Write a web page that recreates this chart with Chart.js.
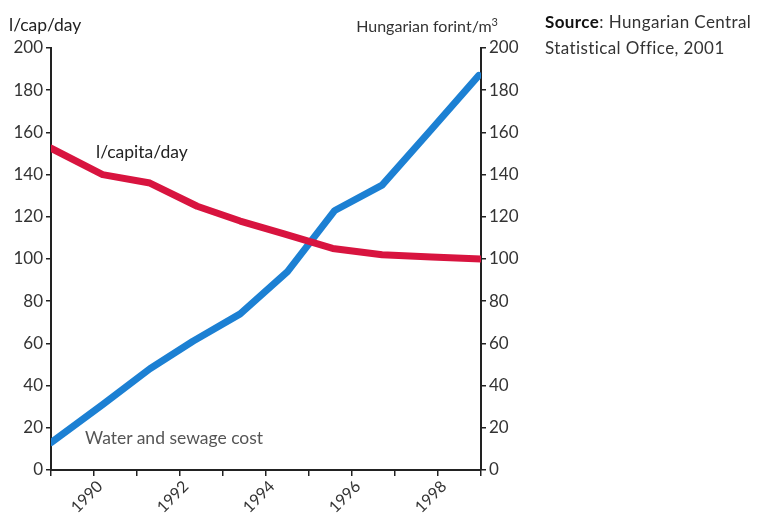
<!DOCTYPE html>
<html>
<head>
<meta charset="utf-8">
<script src="https://cdn.jsdelivr.net/npm/chart.js@4"></script>
<style>
  html, body { margin:0; padding:0; background:#fff; }
  #wrap { position:relative; width:764px; height:514px; font-family:Lato, "Open Sans", sans-serif; color:#222; }
  #chart { position:absolute; left:0; top:0; }
  .txt { position:absolute; white-space:nowrap; }
</style>
</head>
<body>
<div id="wrap">
  <canvas id="chart" width="764" height="514"></canvas>
  <div class="txt" style="left:9px;top:14px;font-size:17.5px;">l/cap/day</div>
  <div class="txt" style="right:266px;top:15px;font-size:16px;color:#333;">Hungarian forint/m<sup style="font-size:11px;">3</sup></div>
  <div class="txt" style="left:545px;top:9px;font-size:17px;line-height:26px;letter-spacing:0.4px;color:#333;"><b style="color:#111;">Source</b>: Hungarian Central<br>Statistical Office, 2001</div>
  <div class="txt" style="left:96px;top:141px;font-size:17.5px;">l/capita/day</div>
  <div class="txt" style="left:85px;top:427px;font-size:17.5px;color:#555;">Water and sewage cost</div>
</div>
<script>
// vertices of the two lines (x in years)
const years = [1989, 1990.2, 1991.3, 1992.4, 1993.4, 1994.4, 1995.55, 1996.7, 1997.85, 1999];
const consumption = [152.5, 140, 136, 125, 118, 112, 105, 102, 101, 100];   // l/capita/day
const costYears = [1989, 1990.2, 1991.3, 1992.3, 1993.4, 1994.5, 1995.6, 1996.7, 1997.85, 1998.95];
const cost = [13, 31, 48, 61, 74, 94, 123, 135, 161.5, 187];                 // forint/m3
const yTicks = [0, 20, 40, 60, 80, 100, 120, 140, 160, 180, 200];
const labelYears = [1990, 1992, 1994, 1996, 1998];

const axisColor = "#222";
const tickFont = { family:"Lato, 'Open Sans', sans-serif", size:17 };

function pts(xs, ys){ return xs.map((x,i)=>({ x, y: ys[i] })); }

new Chart(document.querySelector("#chart"), {
  type: "line",
  data: {
    datasets: [
      { label:"l/capita/day", data: pts(years, consumption), yAxisID:"y",
        borderColor:"#d8143f", borderWidth:7, pointRadius:0, tension:0,
        borderCapStyle:"round", borderJoinStyle:"round" },
      { label:"Water and sewage cost", data: pts(costYears, cost), yAxisID:"y2",
        borderColor:"#1c80d3", borderWidth:7, pointRadius:0, tension:0,
        borderCapStyle:"round", borderJoinStyle:"round" }
    ]
  },
  options: {
    responsive:false,
    animation:false,
    layout:{ padding:{ top:48, left:0, right:0, bottom:0 } },
    plugins:{ legend:{ display:false }, tooltip:{ enabled:false } },
    scales:{
      x:{
        type:"linear", min:1989, max:1999,
        afterBuildTicks: s => { s.ticks = []; for(let yr=1989; yr<=1999; yr++) s.ticks.push({ value:yr }); },
        afterFit: s => { s.height = 44; },
        border:{ display:true, color:axisColor, width:2 },
        grid:{ drawOnChartArea:false, drawTicks:true, tickLength:6, color:axisColor, lineWidth:1.5 },
        ticks:{ autoSkip:false, maxRotation:45, minRotation:45, color:"#333",
          font:{ family:"Lato, 'Open Sans', sans-serif", size:16 }, padding:1, labelOffset:6,
          callback: v => labelYears.includes(v) ? String(v) : "" }
      },
      y:{
        position:"left", min:0, max:200,
        afterBuildTicks: s => { s.ticks = yTicks.map(v=>({ value:v })); },
        afterFit: s => { s.width = 51; },
        border:{ display:true, color:axisColor, width:2 },
        grid:{ drawOnChartArea:false, drawTicks:true, tickLength:5, color:axisColor, lineWidth:1.5 },
        ticks:{ color:"#333", font:tickFont, padding:3 }
      },
      y2:{
        position:"right", min:0, max:200,
        afterBuildTicks: s => { s.ticks = yTicks.map(v=>({ value:v })); },
        afterFit: s => { s.width = 283; },
        border:{ display:true, color:axisColor, width:2 },
        grid:{ drawOnChartArea:false, drawTicks:true, tickLength:5, color:axisColor, lineWidth:1.5 },
        ticks:{ color:"#333", font:tickFont, padding:3 }
      }
    }
  }
});
</script>
</body>
</html>
